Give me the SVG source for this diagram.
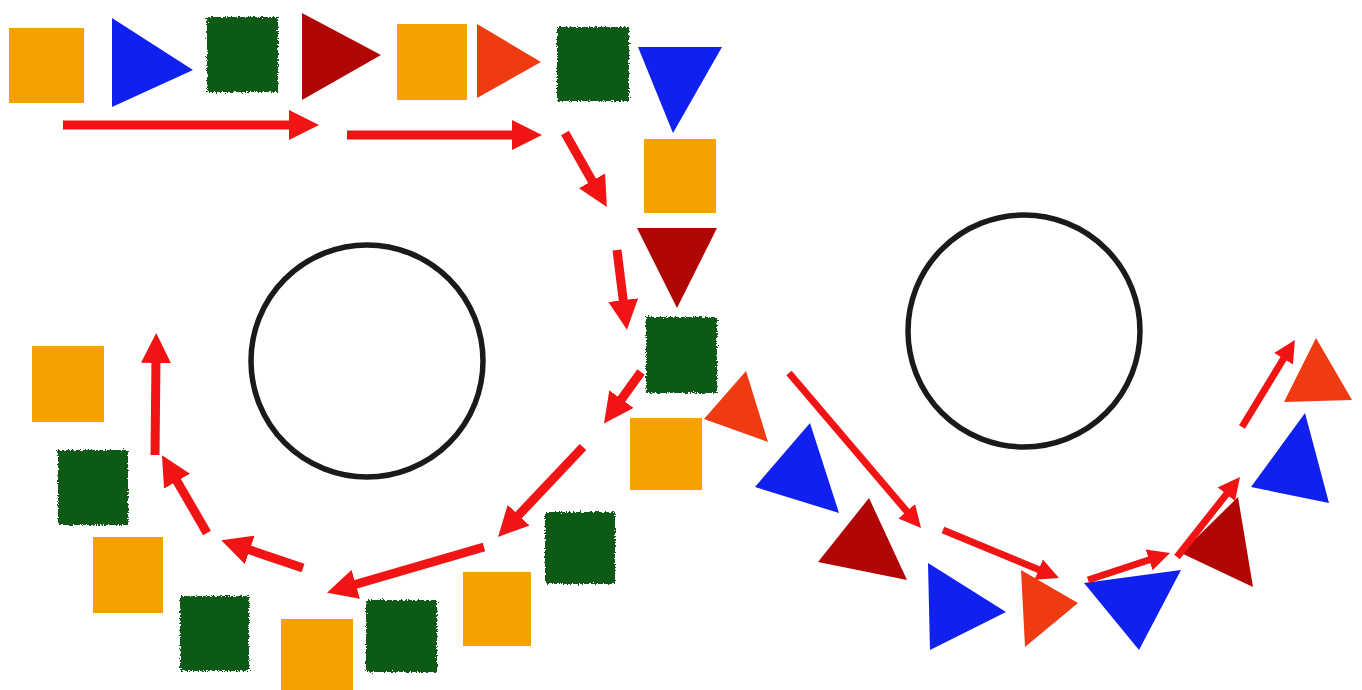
<svg xmlns="http://www.w3.org/2000/svg" width="1362" height="690" viewBox="0 0 1362 690">
<style>
.or{fill:#F7A100}
.gr{fill:#0B5A12;filter:url(#rough)}
.bl{fill:#1020EE}
.dr{fill:#B00606}
.rr{fill:#F03A12}
.ring{fill:none;stroke:#1a1a1a;stroke-width:5.5}
.ar{stroke:#F01414;stroke-width:9;fill:none;marker-end:url(#head)}
.ar2{stroke:#F01414;stroke-width:7;fill:none;marker-end:url(#head2)}
</style>
<defs>
<filter id="rough" x="-10%" y="-10%" width="120%" height="120%">
<feTurbulence type="fractalNoise" baseFrequency="0.6" numOctaves="2" seed="3"/>
<feDisplacementMap in="SourceGraphic" scale="5" xChannelSelector="R" yChannelSelector="G"/>
</filter>
<marker id="head" viewBox="0 0 10 10" markerUnits="userSpaceOnUse" markerWidth="30" markerHeight="30" refX="2" refY="5" orient="auto">
<path d="M0,0 L10,5 L0,10 z" fill="#F01414"/>
</marker>
<marker id="head2" viewBox="0 0 10 10" markerUnits="userSpaceOnUse" markerWidth="22" markerHeight="22" refX="2" refY="5" orient="auto">
<path d="M0,0 L10,5 L0,10 z" fill="#F01414"/>
</marker>
</defs>
<rect width="1362" height="690" fill="#ffffff"/>
<g id="circle-left"><circle class="ring" cx="367" cy="361" r="116"/></g>
<g id="circle-right"><circle class="ring" cx="1024" cy="331" r="116"/></g>
<g id="top-row">
<rect id="sq1" class="or" x="9" y="28" width="75" height="75"/>
<polygon id="tr1" class="bl" points="112,18 112,107 193,70"/>
<rect id="sq2" class="gr" x="207" y="17" width="71" height="75"/>
<polygon id="tr2" class="dr" points="302,13 302,100 381,55"/>
<rect id="sq3" class="or" x="397" y="24" width="70" height="76"/>
<polygon id="tr3" class="rr" points="477,24 477,98 541,62"/>
<rect id="sq4" class="gr" x="557" y="27" width="72" height="74"/>
<polygon id="tr4" class="bl" points="638,47 722,47 673,133"/>
</g>
<g id="right-column">
<rect id="sq5" class="or" x="644" y="139" width="72" height="74"/>
<polygon id="tr5" class="dr" points="637,228 717,228 677,308"/>
<rect id="sq6" class="gr" x="646" y="317" width="71" height="76"/>
<rect id="sq7" class="or" x="630" y="418" width="72" height="72"/>
</g>
<g id="left-loop">
<rect id="sq8" class="gr" x="545" y="512" width="70" height="72"/>
<rect id="sq9" class="or" x="463" y="572" width="68" height="74"/>
<rect id="sq10" class="gr" x="366" y="600" width="71" height="72"/>
<rect id="sq11" class="or" x="281" y="619" width="72" height="71"/>
<rect id="sq12" class="gr" x="180" y="596" width="69" height="75"/>
<rect id="sq13" class="or" x="93" y="537" width="70" height="76"/>
<rect id="sq14" class="gr" x="58" y="450" width="70" height="75"/>
<rect id="sq15" class="or" x="32" y="346" width="72" height="76"/>
</g>
<g id="right-loop">
<polygon id="tr6" class="rr" points="746,371 704,419 768,442"/>
<polygon id="tr7" class="bl" points="810,423 755,487 839,513"/>
<polygon id="tr8" class="dr" points="869,498 818,562 907,580"/>
<polygon id="tr9" class="bl" points="928,563 930,650 1006,612"/>
<polygon id="tr10" class="rr" points="1021,570 1025,647 1078,603"/>
<polygon id="tr11" class="bl" points="1084,583 1181,570 1139,650"/>
<polygon id="tr12" class="dr" points="1238,497 1181,553 1253,587"/>
<polygon id="tr13" class="bl" points="1305,413 1251,487 1329,503"/>
<polygon id="tr14" class="rr" points="1316,338 1284,402 1352,400"/>
</g>
<g id="connectors">
<line class="ar" x1="63" y1="125" x2="295" y2="125"/>
<line class="ar" x1="347" y1="135" x2="518" y2="135"/>
<line class="ar" x1="565" y1="133" x2="595" y2="186"/>
<line class="ar" x1="617" y1="250" x2="624" y2="306"/>
<line class="ar" x1="641" y1="372" x2="618" y2="404"/>
<line class="ar" x1="583" y1="447" x2="514.5" y2="519.5"/>
<line class="ar" x1="484" y1="547" x2="350" y2="586"/>
<line class="ar" x1="303" y1="568" x2="244" y2="548"/>
<line class="ar" x1="207" y1="533" x2="174" y2="476"/>
<line class="ar" x1="155" y1="455" x2="156" y2="357"/>
<line class="ar2" x1="789" y1="373" x2="909.6" y2="514.6"/>
<line class="ar2" x1="943" y1="530" x2="1042.7" y2="571.3"/>
<line class="ar2" x1="1088" y1="580" x2="1153.3" y2="558.5"/>
<line class="ar2" x1="1177" y1="557" x2="1229.1" y2="490.8"/>
<line class="ar2" x1="1242" y1="427" x2="1285.8" y2="355"/>
</g>
</svg>
